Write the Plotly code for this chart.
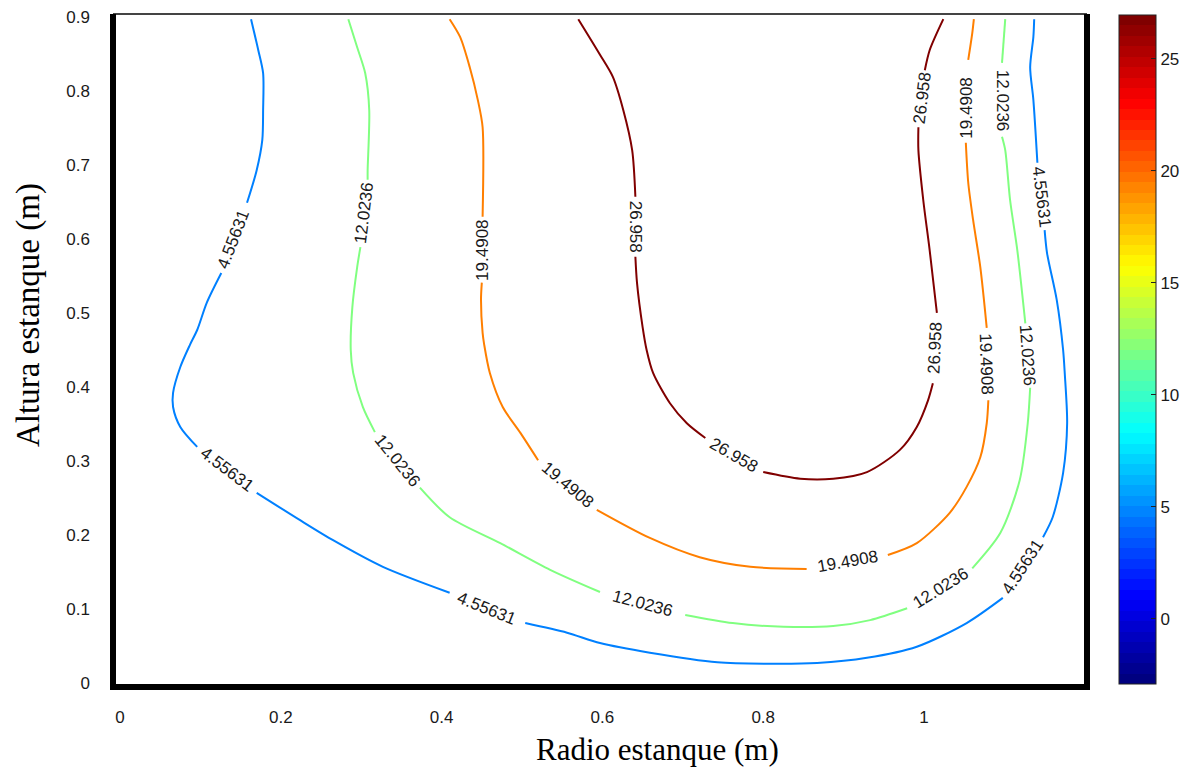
import plotly.graph_objects as go

# ---- contour levels ----
levels = [4.55631, 12.0236, 19.4908, 26.958]
level_text = ["4.55631", "12.0236", "19.4908", "26.958"]
level_colors = ["#0080ff", "#80ff80", "#ff7f00", "#800000"]
z_min, z_max = -2.911, 26.958

# ---- contour paths (None = gap for inline label) ----
x_4556 = [0.163, 0.172, 0.178, 0.178, 0.177, 0.170, 0.158, None,
          0.126, 0.108, 0.096, 0.087, 0.075, 0.066, 0.066, 0.075, 0.096, None,
          0.170, 0.224, 0.265, 0.327, 0.410, None,
          0.504, 0.556, 0.597, 0.659, 0.743, 0.805, 0.867, 0.929, 0.991, 1.053, 1.098, None,
          1.148, 1.160, 1.173, 1.178, 1.175, 1.173, 1.165, 1.153, 1.150, None,
          1.141, 1.136, 1.132, 1.136, 1.137]
y_4556 = [0.897, 0.855, 0.824, 0.774, 0.734, 0.693, 0.649, None,
          0.554, 0.514, 0.477, 0.457, 0.427, 0.392, 0.373, 0.346, 0.319, None,
          0.257, 0.220, 0.193, 0.157, 0.122, None,
          0.081, 0.068, 0.054, 0.041, 0.028, 0.026, 0.027, 0.034, 0.049, 0.081, 0.115, None,
          0.197, 0.224, 0.284, 0.351, 0.419, 0.450, 0.518, 0.581, 0.612, None,
          0.703, 0.788, 0.832, 0.873, 0.897]

x_12024 = [0.284, 0.295, 0.305, 0.310, 0.308, 0.308, None,
           0.299, 0.295, 0.289, 0.287, 0.290, 0.302, 0.317, None,
           0.373, 0.410, 0.473, 0.535, 0.597, None,
           0.703, 0.762, 0.825, 0.887, 0.933, 0.979, None,
           1.060, 1.095, 1.119, 1.129, 1.132, None,
           1.126, 1.116, 1.107, 1.101, 1.097, None,
           1.097, 1.101]
y_12024 = [0.897, 0.859, 0.824, 0.774, 0.693, 0.680, None,
           0.589, 0.562, 0.508, 0.450, 0.419, 0.373, 0.339, None,
           0.264, 0.224, 0.189, 0.153, 0.123, None,
           0.092, 0.081, 0.076, 0.077, 0.085, 0.101, None,
           0.155, 0.203, 0.274, 0.351, 0.399, None,
           0.486, 0.585, 0.653, 0.720, 0.738, None,
           0.838, 0.897]

x_19491 = [0.410, 0.423, 0.435, 0.445, 0.451, 0.451, None,
           0.450, 0.449, 0.451, 0.453, 0.460, 0.476, 0.498, 0.520, None,
           0.593, 0.659, 0.721, 0.784, 0.854, None,
           0.955, 0.991, 1.032, 1.053, 1.070, 1.078, 1.080, None,
           1.078, 1.070, 1.061, 1.055, 1.052, None,
           1.055, 1.060, 1.062]
y_19491 = [0.897, 0.873, 0.832, 0.788, 0.751, 0.630, None,
           0.541, 0.518, 0.473, 0.457, 0.419, 0.373, 0.338, 0.301, None,
           0.234, 0.196, 0.170, 0.157, 0.154, None,
           0.173, 0.189, 0.230, 0.265, 0.305, 0.351, 0.382, None,
           0.480, 0.562, 0.626, 0.676, 0.730, None,
           0.842, 0.878, 0.897]

x_26958 = [0.570, 0.597, 0.613, 0.626, 0.637, 0.641, None,
           0.641, 0.643, 0.650, 0.655, 0.663, 0.684, 0.705, 0.728, None,
           0.800, 0.846, 0.887, 0.929, 0.970, 0.991, 1.005, 1.011, None,
           1.016, 1.007, 0.999, 0.993, 0.993, None,
           1.001, 1.007, 1.024]
y_26958 = [0.897, 0.849, 0.819, 0.774, 0.720, 0.657, None,
           0.576, 0.541, 0.481, 0.450, 0.419, 0.378, 0.351, 0.331, None,
           0.285, 0.276, 0.276, 0.285, 0.315, 0.346, 0.382, 0.405, None,
           0.500, 0.585, 0.653, 0.720, 0.751, None,
           0.828, 0.855, 0.897]

# ---- inline label positions / rotation ----
lab_x_4556 = [0.141, 0.133, 0.456, 1.123, 1.146]
lab_y_4556 = [0.599, 0.288, 0.101, 0.157, 0.657]
lab_a_4556 = [-69, 37, 22, -57, 83]

lab_x_12024 = [0.303, 0.345, 0.650, 1.020, 1.129, 1.097]
lab_y_12024 = [0.635, 0.301, 0.108, 0.128, 0.443, 0.788]
lab_a_12024 = [-83, 51, 15, -32, 86, 90]

lab_x_19491 = [0.450, 0.556, 0.905, 1.078, 1.053]
lab_y_19491 = [0.585, 0.268, 0.164, 0.431, 0.777]
lab_a_19491 = [-90, 40, -10, 88, -90]

lab_x_26958 = [0.641, 0.764, 1.014, 0.998]
lab_y_26958 = [0.616, 0.308, 0.453, 0.791]
lab_a_26958 = [90, 30, -87, -83]

x_ticks = [0, 0.2, 0.4, 0.6, 0.8, 1]
x_tick_text = ["0", "0.2", "0.4", "0.6", "0.8", "1"]
y_ticks = [0, 0.1, 0.2, 0.3, 0.4, 0.5, 0.6, 0.7, 0.8, 0.9]
y_tick_text = ["0", "0.1", "0.2", "0.3", "0.4", "0.5", "0.6", "0.7", "0.8", "0.9"]
cb_ticks = [0, 5, 10, 15, 20, 25]

paths = [(x_4556, y_4556), (x_12024, y_12024), (x_19491, y_19491), (x_26958, y_26958)]
labs = [(lab_x_4556, lab_y_4556, lab_a_4556), (lab_x_12024, lab_y_12024, lab_a_12024),
        (lab_x_19491, lab_y_19491, lab_a_19491), (lab_x_26958, lab_y_26958, lab_a_26958)]

# discrete 64-step jet colormap (style)
def jet(t):
    c = lambda v: max(0.0, min(1.0, v))
    r = c(1.5 - abs(4 * t - 3)); g = c(1.5 - abs(4 * t - 2)); b = c(1.5 - abs(4 * t - 1))
    return "rgb(%d,%d,%d)" % (round(r * 255), round(g * 255), round(b * 255))

N = 64
cscale = []
for i in range(N):
    col = jet(i / (N - 1))
    cscale.append([i / N, col])
    cscale.append([(i + 1) / N, col])

fig = go.Figure()
for (px, py), col in zip(paths, level_colors):
    fig.add_trace(go.Scatter(x=px, y=py, mode="lines",
                             line=dict(color=col, width=2, shape="spline", smoothing=0.8),
                             connectgaps=False, showlegend=False, hoverinfo="skip"))

fig.add_trace(go.Scatter(
    x=[None], y=[None], mode="markers", showlegend=False, hoverinfo="skip",
    marker=dict(color=[z_min], cmin=z_min, cmax=z_max, colorscale=cscale, showscale=True,
                colorbar=dict(x=1.0329, xanchor="left", xpad=0, ypad=0,
                              y=0.5015, yanchor="middle", len=0.994, lenmode="fraction",
                              thickness=37, thicknessmode="pixels",
                              outlinewidth=1, outlinecolor="#222",
                              tickvals=cb_ticks, ticks="inside", ticklen=5, tickcolor="#222",
                              tickfont=dict(family="Liberation Sans", size=17, color="#1a1a1a")))))

annotations = []
for (lx, ly, la), txt in zip(labs, level_text):
    for xx, yy, aa in zip(lx, ly, la):
        annotations.append(dict(x=xx, y=yy, xref="x", yref="y", text=txt, showarrow=False,
                                textangle=aa, xanchor="center", yanchor="middle",
                                font=dict(family="Liberation Sans", size=17, color="#1a1a1a")))

annotations.append(dict(x=0.5595, y=-0.0936, xref="paper", yref="paper", text="Radio estanque (m)",
                        showarrow=False, xanchor="center", yanchor="middle",
                        font=dict(family="Liberation Serif", size=31, color="#000")))
annotations.append(dict(x=-0.0873, y=0.5527, xref="paper", yref="paper", text="Altura estanque (m)",
                        showarrow=False, xanchor="center", yanchor="middle", textangle=-90,
                        font=dict(family="Liberation Serif", size=33, color="#000")))

ex = 3 / 974
ey = 3 / 673
shapes = [
    dict(type="line", xref="paper", yref="paper", x0=0, x1=1, y0=1, y1=1, line=dict(color="#444", width=2)),
    dict(type="line", xref="paper", yref="paper", x0=0, x1=0, y0=-ey, y1=1, line=dict(color="#000", width=6)),
    dict(type="line", xref="paper", yref="paper", x0=-ex, x1=1 + ex, y0=0, y1=0, line=dict(color="#000", width=6)),
    dict(type="line", xref="paper", yref="paper", x0=1, x1=1, y0=-ey, y1=1, line=dict(color="#000", width=6)),
]

fig.update_layout(
    width=1191, height=771, autosize=False,
    margin=dict(l=113, r=104, t=14, b=84, autoexpand=False),
    paper_bgcolor="white", plot_bgcolor="white",
    annotations=annotations, shapes=shapes,
    xaxis=dict(range=[-0.0087, 1.2027], tickvals=x_ticks, ticktext=x_tick_text,
               showgrid=False, zeroline=False, showline=False, ticks="",
               ticklabelstandoff=18,
               tickfont=dict(family="Liberation Sans", size=17, color="#1a1a1a")),
    yaxis=dict(range=[-0.0054, 0.904], tickvals=y_ticks, ticktext=y_tick_text,
               showgrid=False, zeroline=False, showline=False, ticks="",
               ticklabelstandoff=22,
               tickfont=dict(family="Liberation Sans", size=17, color="#1a1a1a")),
)

fig.write_html("out.html", config={"displayModeBar": False},
               post_script="document.body.style.margin='0';document.body.style.overflow='hidden';")
